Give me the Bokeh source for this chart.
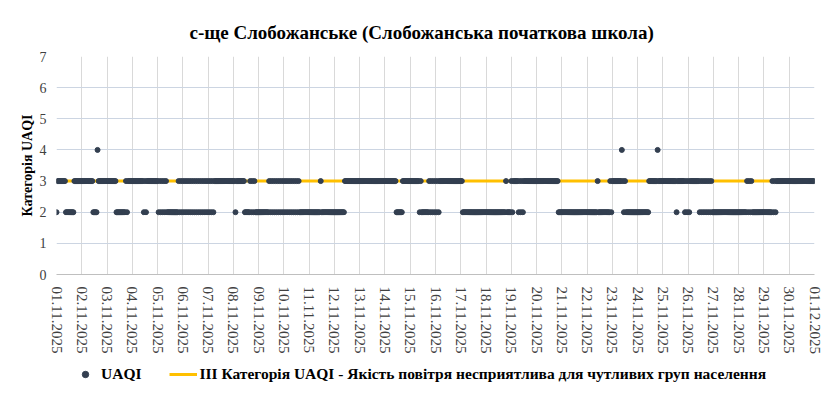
import pandas as pd
from bokeh.plotting import figure
from bokeh.layouts import column
from bokeh.models import (Range1d, FixedTicker, DatetimeTickFormatter, Legend,
                          LegendItem, ColumnDataSource)
from bokeh.embed import file_html
from bokeh.resources import INLINE

# ---------------- data ----------------
title_text = "с-ще Слобожанське (Слобожанська початкова школа)"
y_label = "Категорія UAQI"
series_name = "UAQI"
threshold_name = "III Категорія UAQI - Якість повітря несприятлива для чутливих груп населення"
threshold_value = 3
start_date = "2025-11-01"
end_date = "2025-12-01"
y_ticks = [0, 1, 2, 3, 4, 5, 6, 7]

# hourly UAQI category, one string per day (24 hours from 00:00), "." = no data
daily_hours = [
    "233333333222222223333333",  # 01.11
    "333333333332222433333333",  # 02.11
    "333333333222222222323333",  # 03.11
    "333333333332323333333333",  # 04.11
    "323232323222222222223232",  # 05.11
    "323232323232323232323232",  # 06.11
    "323232333333333333333333",  # 07.11
    "332333333332222232323222",  # 08.11
    "222222222232323232323232",  # 09.11
    "323232323232323222222222",  # 10.11
    "222222222223222222222222",  # 11.11
    "222222222233333333333333",  # 12.11
    "333333333333333333333333",  # 13.11
    "333333333332222223333333",  # 14.11
    "333333333232222222323232",  # 15.11
    "323233333333333333333333",  # 16.11
    "332222222222222222222222",  # 17.11
    "222222222222222222232222",  # 18.11
    "323333323232333333333333",  # 19.11
    "333333333333333333333222",  # 20.11
    "222222222222222222222222",  # 21.11
    "222222222232222222222232",  # 22.11
    "333333333432322222222222",  # 23.11
    "222222222223333333343333",  # 24.11
    "333333333333323333333232",  # 25.11
    "323333333332323232323232",  # 26.11
    "222222222222222222222222",  # 27.11
    "222222223232322222222222",  # 28.11
    "222222223232333333333333",  # 29.11
    "333333333333333333333333",  # 30.11
]
last_hour_value = "3"  # 01.12.2025 00:00

# ---------------- build ----------------
chars = "".join(daily_hours) + last_hour_value
times = pd.date_range(start_date, periods=len(chars), freq="h")
pts = [(t, int(c)) for t, c in zip(times, chars) if c != "."]
src = ColumnDataSource(dict(x=[p[0] for p in pts], y=[p[1] for p in pts]))

t0 = pd.Timestamp(start_date)
t1 = pd.Timestamp(end_date)
day_ticks = pd.date_range(start_date, end_date, freq="D")

FONT = "Liberation Serif"
PT_COLOR = "#333f50"
LINE_COLOR = "#ffc000"
FIG_W = 824

p = figure(x_axis_type="datetime", output_backend="svg", toolbar_location=None,
           frame_width=758, frame_height=218,
           min_border_left=56, min_border_right=10, min_border_top=56, min_border_bottom=78,
           x_range=Range1d(t0, t1), y_range=Range1d(0, 7))

p.title.text = title_text
p.title.align = "left"
p.title.offset = 133
p.title.standoff = 27
p.title.text_font = FONT
p.title.text_font_size = "19px"
p.title.text_font_style = "bold"
p.title.text_color = "#000000"

thr = p.line(x=[t0, t1], y=[threshold_value, threshold_value],
             line_color=LINE_COLOR, line_width=3)
sc = p.scatter("x", "y", source=src, size=5, fill_color=PT_COLOR,
               line_color=PT_COLOR)

p.xaxis.ticker = FixedTicker(ticks=[t.value // 10**6 for t in day_ticks])
fmt = "%d.%m.%Y"
p.xaxis.formatter = DatetimeTickFormatter(days=fmt, months=fmt, hours=fmt,
                                          years=fmt, minutes=fmt)
p.xaxis.major_label_orientation = "vertical"
p.xaxis.major_label_text_font = FONT
p.xaxis.major_label_text_font_size = "15px"
p.xaxis.major_label_text_color = "#404040"
p.xaxis.major_label_standoff = 6
p.xaxis.axis_line_color = "#bfbfbf"
p.xaxis.major_tick_line_color = None
p.xaxis.minor_tick_line_color = None

p.yaxis.ticker = FixedTicker(ticks=y_ticks)
p.yaxis.axis_label = y_label
p.yaxis.axis_label_text_font = FONT
p.yaxis.axis_label_text_font_size = "14px"
p.yaxis.axis_label_text_font_style = "bold"
p.yaxis.axis_label_text_color = "#000000"
p.yaxis.axis_label_standoff = 2
p.yaxis.major_label_text_font = FONT
p.yaxis.major_label_text_font_size = "14px"
p.yaxis.major_label_text_color = "#404040"
p.yaxis.major_label_standoff = 4
p.yaxis.axis_line_color = None
p.yaxis.major_tick_line_color = None
p.yaxis.minor_tick_line_color = None

p.xgrid.grid_line_color = "#d9d9d9"
p.ygrid.grid_line_color = "#ccd5e2"
p.outline_line_color = None

# ---- legend strip below the chart (its glyphs lie outside its visible range) ----
lp = figure(x_axis_type="datetime", output_backend="svg", toolbar_location=None,
            width=FIG_W, height=32, min_border=0,
            x_axis_location=None, y_axis_location=None,
            x_range=Range1d(t0, t1), y_range=Range1d(100, 101))
lp.grid.visible = False
lp.outline_line_color = None
lthr = lp.line(x=[t0, t1], y=[threshold_value, threshold_value],
               line_color=LINE_COLOR, line_width=3)
lsc = lp.scatter("x", "y", source=src, size=5, fill_color=PT_COLOR,
                 line_color=PT_COLOR)

legend = Legend(items=[LegendItem(label=series_name, renderers=[lsc]),
                       LegendItem(label=threshold_name, renderers=[lthr])],
                orientation="horizontal", location=(15, 6))
legend.label_text_font = FONT
legend.label_text_font_size = "15.5px"
legend.label_text_font_style = "bold"
legend.label_text_color = "#000000"
legend.glyph_width = 28
legend.glyph_height = 16
legend.label_height = 16
legend.label_standoff = 2
legend.spacing = 28
legend.padding = 0
legend.margin = 0
legend.border_line_color = None
legend.background_fill_alpha = 0
lp.add_layout(legend, "center")

layout = column(p, lp, spacing=0)
open("out.html", "w").write(file_html(layout, INLINE))
